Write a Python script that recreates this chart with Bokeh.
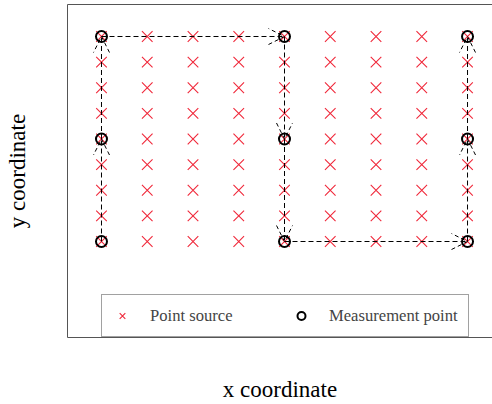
from bokeh.plotting import figure
from bokeh.models import (ColumnDataSource, Arrow, OpenHead, Legend, LegendItem,
                          FixedTicker, LinearAxis, Range1d)
from bokeh.embed import file_html
from bokeh.resources import INLINE

# grid of point sources
source_cols = [0, 1, 2, 3, 4, 5, 6, 7, 8]
source_rows = [0, 1, 2, 3, 4, 5, 6, 7, 8]
# measurement points
meas_cols = [0, 4, 8]
meas_rows = [0, 4, 8]
# measurement path (order of visits)
path_x = [0, 0, 0, 4, 4, 4, 8, 8, 8]
path_y = [0, 4, 8, 8, 4, 0, 0, 4, 8]

src_x = [c for c in source_cols for r in source_rows]
src_y = [r for c in source_cols for r in source_rows]
m_x = [c for c in meas_cols for r in meas_rows]
m_y = [r for c in meas_cols for r in meas_rows]

SERIF = "Liberation Serif"

p = figure(width=492, height=404, output_backend="svg", toolbar_location=None,
           x_range=Range1d(-0.743, 8.546), y_range=Range1d(-3.746, 9.249),
           x_axis_location=None, y_axis_location=None)
p.min_border = 0
p.min_border_left = 67
p.min_border_right = 0
p.min_border_top = 4
p.min_border_bottom = 67
p.outline_line_color = None
p.grid.visible = False
p.background_fill_color = "white"
p.border_fill_color = "white"

def make_axis(label, standoff):
    ax = LinearAxis(ticker=FixedTicker(ticks=[]), axis_label=label,
                    axis_label_text_font=SERIF, axis_label_text_font_size="23px",
                    axis_label_text_font_style="normal", axis_label_text_color="black",
                    axis_label_standoff=standoff, major_tick_out=0, major_tick_in=0,
                    minor_tick_out=0, minor_tick_in=0, major_label_standoff=0,
                    axis_line_color="#555555", axis_line_width=1)
    return ax

p.add_layout(make_axis("x coordinate", 39), "below")
p.add_layout(make_axis("y coordinate", 38), "left")
top_ax = make_axis(None, 0)
top_ax.axis_label = None
p.add_layout(top_ax, "above")

r_src = p.scatter(src_x, src_y, marker="x", size=15, line_color="#f0283a",
                  line_width=1.1)
r_meas = p.scatter(m_x, m_y, marker="circle", size=11, fill_color=None,
                   line_color="black", line_width=2)

arrow_src = ColumnDataSource(dict(x0=path_x[:-1], y0=path_y[:-1],
                                  x1=path_x[1:], y1=path_y[1:]))
p.add_layout(Arrow(end=OpenHead(size=16, line_width=1, line_color="black",
                                line_dash="4 3"),
                   x_start="x0", y_start="y0", x_end="x1", y_end="y1",
                   source=arrow_src, line_color="black", line_width=1,
                   line_dash="5 3"))

legend = Legend(items=[LegendItem(label="Point source", renderers=[r_src]),
                       LegendItem(label="Measurement point", renderers=[r_meas])],
                orientation="horizontal", location=(34, 0), margin=0,
                padding=10, spacing=12, glyph_width=20, glyph_height=21,
                label_standoff=18, label_width=129,
                label_text_font=SERIF, label_text_font_size="16.6px",
                border_line_color="#444444", border_line_width=1,
                background_fill_color="white", background_fill_alpha=1)
p.add_layout(legend, "center")

open("out.html", "w").write(file_html(p, INLINE))
